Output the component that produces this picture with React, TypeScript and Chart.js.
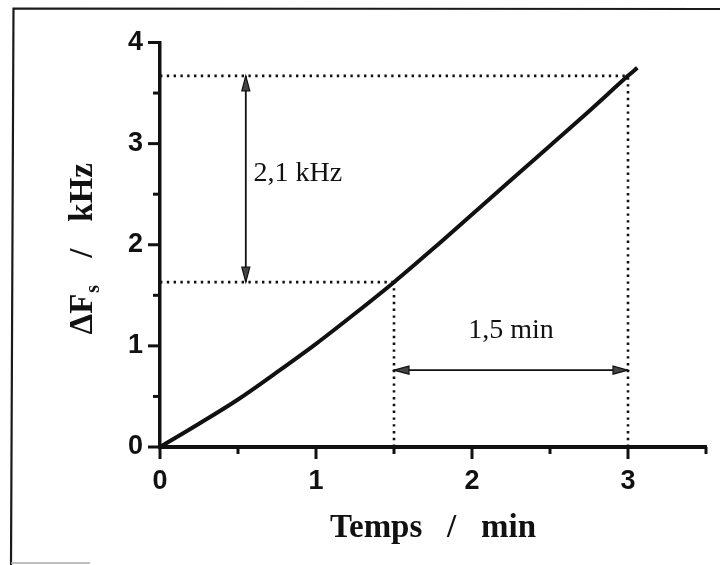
import React, { useEffect, useRef } from "react";
import { Chart, registerables } from "chart.js";

Chart.register(...registerables);

// ---- data ----
const timeMin = [0, 0.25, 0.5, 0.75, 1.0, 1.25, 1.5, 1.75, 2.0, 2.25, 2.5, 2.75, 3.0, 3.06];
const deltaFsKHz = [0, 0.23, 0.47, 0.74, 1.02, 1.32, 1.63, 1.96, 2.3, 2.64, 2.98, 3.32, 3.67, 3.75];

const xRange = [0, 3.5];
const yRange = [0, 4];
const tickStep = 0.5;

// reading marks
const markTimes = [1.5, 3.0];
const markLevels = [1.63, 3.67];
const freqArrowTime = 0.55;
const timeArrowLevel = 0.76;
const freqLabel = "2,1 kHz";
const freqLabelPos = [0.6, 2.7];
const timeLabel = "1,5 min";
const timeLabelPos = [2.25, 1.15];

const xTitle = "Temps   /   min";
const yTitleMain = "ΔF";
const yTitleSub = "s";
const yTitleSlash = "/";
const yTitleUnit = "kHz";

const SERIF = "'Liberation Serif', 'Times New Roman', serif";
const SANS = "'Liberation Sans', Arial, sans-serif";

function drawHead(ctx: CanvasRenderingContext2D, tx: number, ty: number, dx: number, dy: number) {
  const len = 15;
  const hw = 4;
  const bx = tx - dx * len;
  const by = ty - dy * len;
  const px = -dy;
  const py = dx;
  ctx.beginPath();
  ctx.moveTo(tx, ty);
  ctx.lineTo(bx + px * hw, by + py * hw);
  ctx.lineTo(bx - px * hw, by - py * hw);
  ctx.closePath();
  ctx.fillStyle = "#444";
  ctx.fill();
  ctx.lineWidth = 1.2;
  ctx.strokeStyle = "#111";
  ctx.stroke();
}

const decorPlugin = {
  id: "decor",
  beforeDraw(chart: any) {
    const ctx = chart.ctx as CanvasRenderingContext2D;
    ctx.save();
    ctx.strokeStyle = "#1a1a1a";
    ctx.lineWidth = 2.2;
    ctx.beginPath();
    ctx.moveTo(11, 565);
    ctx.lineTo(13.5, 8.5);
    ctx.lineTo(720, 9);
    ctx.stroke();
    ctx.strokeStyle = "#aaa";
    ctx.lineWidth = 1.5;
    ctx.beginPath();
    ctx.moveTo(11, 563);
    ctx.lineTo(90, 563);
    ctx.stroke();
    ctx.restore();
  },
  afterDraw(chart: any) {
    const ctx = chart.ctx as CanvasRenderingContext2D;
    const xs = chart.scales.x;
    const ys = chart.scales.y;
    const area = chart.chartArea;
    ctx.save();
    // tick marks
    ctx.strokeStyle = "#111";
    ctx.lineWidth = 3;
    xs.ticks.forEach((t: any) => {
      const px = xs.getPixelForValue(t.value);
      const len = Math.abs(t.value - Math.round(t.value)) < 1e-6 ? 12 : 7;
      ctx.beginPath();
      ctx.moveTo(px, area.bottom);
      ctx.lineTo(px, area.bottom + len);
      ctx.stroke();
    });
    ys.ticks.forEach((t: any) => {
      const py = ys.getPixelForValue(t.value);
      const len = Math.abs(t.value - Math.round(t.value)) < 1e-6 ? 12 : 7;
      ctx.beginPath();
      ctx.moveTo(area.left - len, py);
      ctx.lineTo(area.left, py);
      ctx.stroke();
    });

    // arrows
    ctx.strokeStyle = "#111";
    ctx.lineWidth = 1.8;
    const vx = xs.getPixelForValue(freqArrowTime);
    const vy1 = ys.getPixelForValue(markLevels[0]);
    const vy2 = ys.getPixelForValue(markLevels[1]);
    ctx.beginPath();
    ctx.moveTo(vx, vy1);
    ctx.lineTo(vx, vy2);
    ctx.stroke();
    drawHead(ctx, vx, vy2, 0, -1);
    drawHead(ctx, vx, vy1, 0, 1);

    ctx.lineWidth = 1.8;
    ctx.strokeStyle = "#111";
    const hy = ys.getPixelForValue(timeArrowLevel);
    const hx1 = xs.getPixelForValue(markTimes[0]);
    const hx2 = xs.getPixelForValue(markTimes[1]);
    ctx.beginPath();
    ctx.moveTo(hx1, hy);
    ctx.lineTo(hx2, hy);
    ctx.stroke();
    drawHead(ctx, hx1, hy, -1, 0);
    drawHead(ctx, hx2, hy, 1, 0);

    // annotation labels
    ctx.fillStyle = "#111";
    ctx.font = `28px ${SERIF}`;
    ctx.textBaseline = "middle";
    ctx.textAlign = "left";
    ctx.fillText(freqLabel, xs.getPixelForValue(freqLabelPos[0]), ys.getPixelForValue(freqLabelPos[1]));
    ctx.textAlign = "center";
    ctx.fillText(timeLabel, xs.getPixelForValue(timeLabelPos[0]), ys.getPixelForValue(timeLabelPos[1]));

    // y axis title with subscript
    const mainFont = `bold 33px ${SERIF}`;
    const subFont = `bold 20px ${SERIF}`;
    ctx.font = mainFont;
    const w1 = ctx.measureText(yTitleMain).width;
    const wSlash = ctx.measureText(yTitleSlash).width;
    const wUnit = ctx.measureText(yTitleUnit).width;
    ctx.font = subFont;
    const w2 = ctx.measureText(yTitleSub).width;
    const gap = 27;
    const total = w1 + 1 + w2 + gap + wSlash + gap + wUnit;
    const cy = (area.top + area.bottom) / 2 + 4;
    ctx.translate(92, cy + total / 2);
    ctx.rotate(-Math.PI / 2);
    ctx.textAlign = "left";
    ctx.textBaseline = "alphabetic";
    ctx.font = mainFont;
    ctx.fillText(yTitleMain, 0, 0);
    ctx.font = subFont;
    ctx.fillText(yTitleSub, w1 + 1, 7);
    ctx.font = mainFont;
    ctx.fillText(yTitleSlash, w1 + 1 + w2 + gap, 0);
    ctx.fillText(yTitleUnit, w1 + 1 + w2 + gap + wSlash + gap, 0);
    ctx.restore();
  },
};

export default function App() {
  const ref = useRef<HTMLCanvasElement | null>(null);
  useEffect(() => {
    if (!ref.current) return;
    const dotted = {
      showLine: true,
      pointRadius: 0,
      borderColor: "#111",
      borderWidth: 2.6,
      borderDash: [2.4, 4.4],
      fill: false,
    };
    const chart = new Chart(ref.current, {
      type: "scatter",
      data: {
        datasets: [
          {
            data: [
              { x: 0, y: markLevels[1] },
              { x: markTimes[1], y: markLevels[1] },
            ],
            ...dotted,
          },
          {
            data: [
              { x: 0, y: markLevels[0] },
              { x: markTimes[0], y: markLevels[0] },
            ],
            ...dotted,
          },
          {
            data: [
              { x: markTimes[0], y: 0 },
              { x: markTimes[0], y: markLevels[0] },
            ],
            ...dotted,
          },
          {
            data: [
              { x: markTimes[1], y: 0 },
              { x: markTimes[1], y: markLevels[1] },
            ],
            ...dotted,
          },
          {
            data: timeMin.map((t, i) => ({ x: t, y: deltaFsKHz[i] })),
            showLine: true,
            pointRadius: 0,
            borderColor: "#111",
            borderWidth: 4,
            cubicInterpolationMode: "monotone",
            fill: false,
          } as any,
        ],
      },
      options: {
        animation: false,
        responsive: false,
        layout: { padding: { left: 0, top: 42.5, right: 14, bottom: 0 } },
        plugins: { legend: { display: false }, tooltip: { enabled: false } },
        scales: {
          x: {
            type: "linear",
            min: xRange[0],
            max: xRange[1],
            afterFit: (s: any) => {
              s.height = 118;
              s.paddingLeft = 0;
              s.paddingRight = 0;
              s.paddingTop = 0;
              s.paddingBottom = 0;
            },
            grid: { display: false, drawTicks: false },
            border: { display: true, color: "#111", width: 4 },
            ticks: {
              stepSize: tickStep,
              padding: 18,
              color: "#111",
              font: { family: SANS, size: 27, weight: "bold" },
              maxRotation: 0,
              autoSkip: false,
              callback: (v: any) => (Math.abs(v - Math.round(v)) < 1e-6 ? String(Math.round(v)) : ""),
            },
            title: {
              display: true,
              text: xTitle,
              color: "#111",
              font: { family: SERIF, size: 33, weight: "bold" },
              padding: { top: 0, bottom: 17 },
            },
          },
          y: {
            type: "linear",
            min: yRange[0],
            max: yRange[1],
            afterFit: (s: any) => {
              s.width = 160;
              s.paddingLeft = 0;
              s.paddingRight = 0;
              s.paddingTop = 0;
              s.paddingBottom = 0;
            },
            grid: { display: false, drawTicks: false },
            border: { display: true, color: "#111", width: 3.5 },
            ticks: {
              stepSize: tickStep,
              padding: 17,
              color: "#111",
              font: { family: SANS, size: 27, weight: "bold" },
              autoSkip: false,
              callback: (v: any) => (Math.abs(v - Math.round(v)) < 1e-6 ? String(Math.round(v)) : ""),
            },
          },
        },
      },
      plugins: [decorPlugin],
    } as any);
    return () => chart.destroy();
  }, []);
  return (
    <div style={{ position: "absolute", left: 0, top: 0, width: 720, height: 565, background: "#fff" }}>
      <canvas ref={ref} width={720} height={565} style={{ display: "block" }} />
    </div>
  );
}
